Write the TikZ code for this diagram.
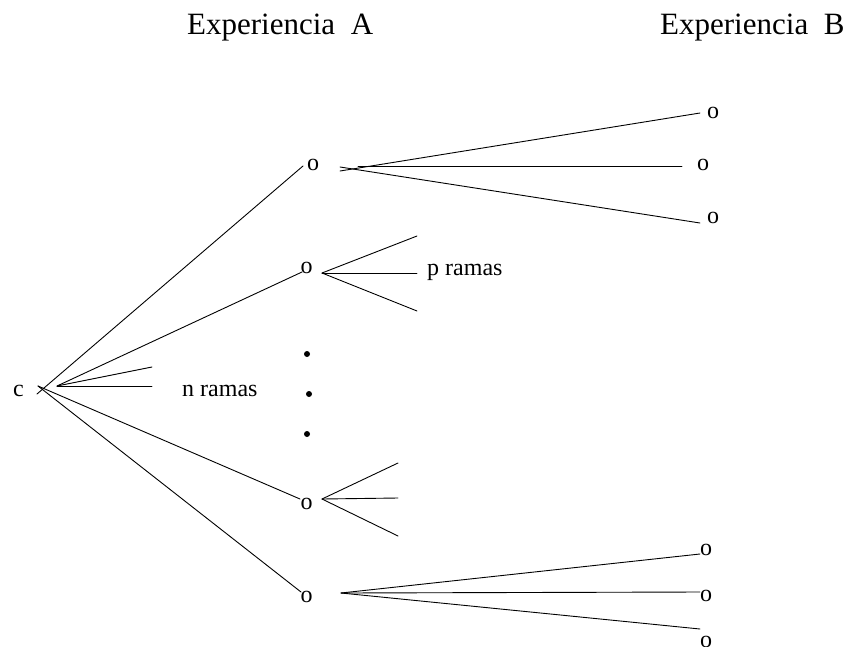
\documentclass[tikz,border=0pt]{standalone}
\usepackage{fontspec}
\setmainfont{Liberation Serif}
\begin{document}
\begin{tikzpicture}[x=1pt,y=-1pt,
  hdr/.style={font=\fontsize{31}{37}\selectfont, inner sep=0pt, anchor=base west},
  lbl/.style={font=\fontsize{24}{29}\selectfont, inner sep=0pt, anchor=base west},
  onode/.style={font=\fontsize{24}{29}\selectfont, inner sep=0pt, anchor=base},
  branch/.style={line width=0.9pt, line cap=round},
  dotmark/.style={circle, fill=black, inner sep=0pt, minimum size=6pt}]
\useasboundingbox (0,0) rectangle (851,646);

% headers
\node[hdr] (hA) at (187,34) {Experiencia~~A};
\node[hdr] (hB) at (660,34) {Experiencia~~B};

% labels
\node[lbl] (c) at (13,396) {c};
\node[lbl] (nr) at (182,396) {n ramas};
\node[lbl] (pr) at (427,275) {p ramas};

% first-level o nodes
\node[onode] (o1) at (313,170) {o};
\node[onode] (o2) at (306.5,273) {o};
\node[onode] (o4) at (306.5,509) {o};
\node[onode] (o5) at (306.5,602) {o};

% second-level o nodes
\node[onode] (t1) at (713,118) {o};
\node[onode] (t2) at (703,170) {o};
\node[onode] (t3) at (713,223) {o};
\node[onode] (b1) at (706,555) {o};
\node[onode] (b2) at (706,601) {o};
\node[onode] (b3) at (706,647) {o};

% dots
\node[dotmark] (d1) at (307,354) {};
\node[dotmark] (d2) at (309,394) {};
\node[dotmark] (d3) at (307,434) {};

% coordinates: root fan
\coordinate (cA) at (37,394);
\coordinate (cB) at (57,386);
\coordinate (cC) at (38,386);
\coordinate (e1) at (303,166);
\coordinate (e2) at (302,272);
\coordinate (n1) at (152,367);
\coordinate (n2) at (152,386);
\coordinate (e4) at (300,499);
\coordinate (e5) at (301,592);

\draw[branch] (cA) -- (e1);
\draw[branch] (cB) -- (e2);
\draw[branch] (cB) -- (n1);
\draw[branch] (cB) -- (n2);
\draw[branch] (cC) -- (e4);
\draw[branch] (cC) -- (e5);

% top o fan
\coordinate (a1s) at (340,167);
\coordinate (a2s) at (340,171);
\coordinate (a3s) at (358,166);
\coordinate (a1e) at (700,223);
\coordinate (a2e) at (700,113);
\coordinate (a3e) at (682,166);
\draw[branch] (a1s) -- (a1e);
\draw[branch] (a2s) -- (a2e);
\draw[branch] (a3s) -- (a3e);

% second o fan
\coordinate (b0) at (322,273);
\coordinate (bu) at (417,236);
\coordinate (bm) at (417,273);
\coordinate (bd) at (417,311);
\draw[branch] (b0) -- (bu);
\draw[branch] (b0) -- (bm);
\draw[branch] (b0) -- (bd);

% fourth o fan
\coordinate (f0) at (322,499);
\coordinate (fu) at (398,463);
\coordinate (fm) at (398,498);
\coordinate (fd) at (398,536);
\draw[branch] (f0) -- (fu);
\draw[branch] (f0) -- (fm);
\draw[branch] (f0) -- (fd);

% bottom o fan
\coordinate (g0) at (341,593);
\coordinate (gu) at (700,554);
\coordinate (gm) at (700,592);
\coordinate (gd) at (700,629);
\draw[branch] (g0) -- (gu);
\draw[branch] (g0) -- (gm);
\draw[branch] (g0) -- (gd);
\end{tikzpicture}
\end{document}
